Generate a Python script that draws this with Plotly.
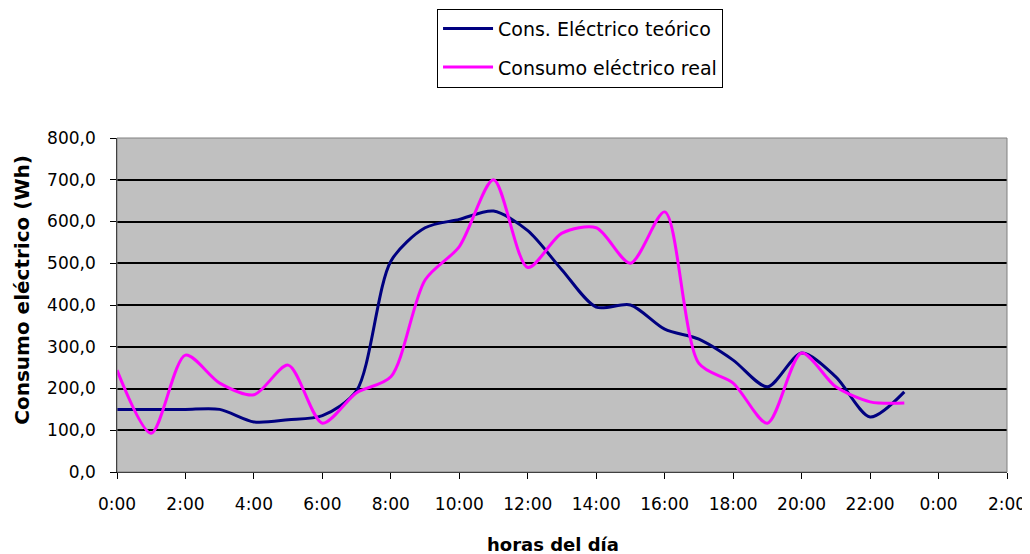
import plotly.graph_objects as go

hours = list(range(24))
teorico = [150, 150, 150, 150, 120, 125, 135, 195, 505, 585, 605, 625, 578, 484,
           395, 400, 342, 318, 268, 204, 285, 228, 132, 192]
real = [244, 93, 280, 213, 185, 256, 117, 190, 228, 460, 540, 700, 490, 572,
        585, 500, 623, 260, 213, 117, 285, 204, 168, 165]

x_tickvals = list(range(0, 27, 2))
x_ticktext = ["0:00", "2:00", "4:00", "6:00", "8:00", "10:00", "12:00", "14:00",
              "16:00", "18:00", "20:00", "22:00", "0:00", "2:00"]
y_tickvals = list(range(0, 801, 100))
y_ticktext = ["0,0", "100,0", "200,0", "300,0", "400,0", "500,0", "600,0", "700,0", "800,0"]

pad = "\u00a0\u00a0"

fig = go.Figure()
fig.add_trace(go.Scatter(x=hours, y=teorico, mode="lines", name="Cons. Eléctrico teórico",
                         legendgroup="a",
                         line=dict(color="#000080", width=3, shape="spline", smoothing=0.8)))
fig.add_trace(go.Scatter(x=hours, y=real, mode="lines", name="Consumo eléctrico real",
                         legendgroup="b",
                         line=dict(color="#ff00ff", width=3, shape="spline", smoothing=0.8)))

font = "DejaVu Sans, Liberation Sans, sans-serif"
# page body has an 8px margin, so the figure is drawn 8px smaller
fig.update_layout(
    width=1022, height=546,
    margin=dict(l=109, r=23, t=130, b=82, autoexpand=False),
    paper_bgcolor="white",
    plot_bgcolor="#c0c0c0",
    font=dict(family=font, size=17, color="black"),
    legend=dict(xref="container", yref="container", x=0.4198, y=0.999,
                xanchor="left", yanchor="top",
                bordercolor="black", borderwidth=1, bgcolor="white",
                font=dict(size=19), tracegroupgap=11, itemwidth=50),
    showlegend=True,
)
fig.update_xaxes(range=[0, 26], tickvals=x_tickvals, ticktext=x_ticktext,
                 showgrid=False, zeroline=False, showline=True, linecolor="black",
                 linewidth=1, ticks="outside", ticklen=6, tickcolor="black",
                 ticklabelstandoff=11, automargin=False)
fig.update_yaxes(range=[0, 800], tickvals=y_tickvals, ticktext=[t + pad for t in y_ticktext],
                 showgrid=True, gridcolor="black", gridwidth=1.8, zeroline=False,
                 showline=True, linecolor="black", linewidth=1, ticks="outside",
                 ticklen=6, tickcolor="black", automargin=False)
fig.add_shape(type="rect", xref="paper", yref="paper", x0=0, x1=1, y0=0, y1=1,
              line=dict(color="#808080", width=1), layer="above")
fig.add_annotation(text="<b>horas del día</b>", xref="paper", yref="paper",
                   x=0.49, y=-0.216, showarrow=False, font=dict(size=18),
                   xanchor="center", yanchor="middle")
fig.add_annotation(text="<b>Consumo eléctrico (Wh)</b>", xref="paper", yref="paper",
                   x=-0.107, y=0.545, showarrow=False, font=dict(size=20),
                   textangle=-90, xanchor="center", yanchor="middle")

fig.write_html("out.html")
